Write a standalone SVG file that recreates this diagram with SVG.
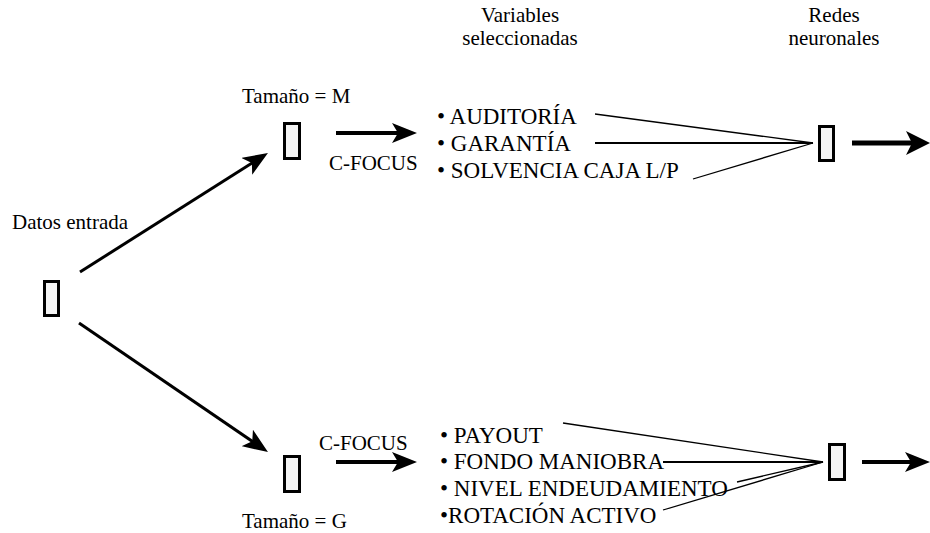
<svg xmlns="http://www.w3.org/2000/svg" width="930" height="533" viewBox="0 0 930 533" font-family="'Liberation Serif', 'Times New Roman', serif">
<style>
.lbl{font-family:'Liberation Serif','Times New Roman',serif;font-size:21px;fill:#000}
.bul{font-family:'Liberation Serif','Times New Roman',serif;font-size:23px;fill:#000}
.mid{text-anchor:middle}
.box{fill:#f4f4f4;stroke:#000;stroke-width:3}
.thin{stroke:#000;stroke-width:1.3;fill:none}
.med{stroke:#000;stroke-width:2.2;fill:none}
.arr{stroke:#000;fill:none}
</style>
<defs>
<marker id="ah" viewBox="0 0 25 20" refX="15" refY="10" markerWidth="25" markerHeight="20" markerUnits="userSpaceOnUse" orient="auto">
<path d="M0,0 L25,10 L0,20 L6,10 Z" fill="#000"/>
</marker>
<marker id="ahb" viewBox="0 0 24 24" refX="14" refY="12" markerWidth="24" markerHeight="24" markerUnits="userSpaceOnUse" orient="auto">
<path d="M0,0 L24,12 L0,24 L6,12 Z" fill="#000"/>
</marker>
</defs>

<g id="headers">
<text class="lbl mid" x="520" y="22">Variables</text>
<text class="lbl mid" x="520" y="45">seleccionadas</text>
<text class="lbl mid" x="834" y="22">Redes</text>
<text class="lbl mid" x="834" y="45">neuronales</text>
</g>

<g id="connectors">
<line class="arr" x1="80" y1="272" x2="259.5" y2="158.3" stroke-width="3" marker-end="url(#ah)"/>
<line class="arr" x1="79" y1="323" x2="259.7" y2="446.4" stroke-width="3" marker-end="url(#ah)"/>
<line class="arr" x1="336" y1="133" x2="407" y2="133" stroke-width="4" marker-end="url(#ah)"/>
<line class="arr" x1="336" y1="462" x2="407" y2="462" stroke-width="4" marker-end="url(#ah)"/>
<line class="thin" x1="595" y1="114" x2="813" y2="143"/>
<line class="med" x1="595" y1="143" x2="813" y2="143"/>
<line class="thin" x1="693" y1="179" x2="813" y2="143"/>
<line class="thin" x1="563" y1="423" x2="823" y2="462"/>
<line class="med" x1="663" y1="462" x2="823" y2="462"/>
<line class="thin" x1="737" y1="482" x2="823" y2="462"/>
<line class="thin" x1="663" y1="510" x2="823" y2="462"/>
<line class="arr" x1="852" y1="143" x2="920" y2="143" stroke-width="5" marker-end="url(#ahb)"/>
<line class="arr" x1="862" y1="462" x2="920" y2="462" stroke-width="4" marker-end="url(#ah)"/>
</g>

<g id="input">
<rect class="box" x="44.5" y="281.5" width="14" height="34"/>
<text class="lbl" x="12" y="229">Datos entrada</text>
</g>

<g id="sizeM">
<rect class="box" x="284.5" y="123.5" width="15" height="35"/>
<text class="lbl" x="242" y="103">Tamaño = M</text>
<text class="lbl" x="329" y="170">C-FOCUS</text>
</g>

<g id="sizeG">
<rect class="box" x="284.5" y="456.5" width="15" height="35"/>
<text class="lbl" x="242" y="528">Tamaño = G</text>
<text class="lbl" x="319" y="450">C-FOCUS</text>
</g>

<g id="varsM">
<text class="bul" x="437" y="124">• AUDITORÍA</text>
<text class="bul" x="437" y="151">• GARANTÍA</text>
<text class="bul" x="437" y="178">• SOLVENCIA CAJA L/P</text>
</g>

<g id="varsG">
<text class="bul" x="440" y="443">• PAYOUT</text>
<text class="bul" x="440" y="469">• FONDO MANIOBRA</text>
<text class="bul" x="440" y="496">• NIVEL ENDEUDAMIENTO</text>
<text class="bul" x="440" y="523">•ROTACIÓN ACTIVO</text>
</g>

<g id="nnM">
<rect class="box" x="819.5" y="126.5" width="14" height="34"/>
</g>

<g id="nnG">
<rect class="box" x="829.5" y="444.5" width="15" height="35"/>
</g>
</svg>
